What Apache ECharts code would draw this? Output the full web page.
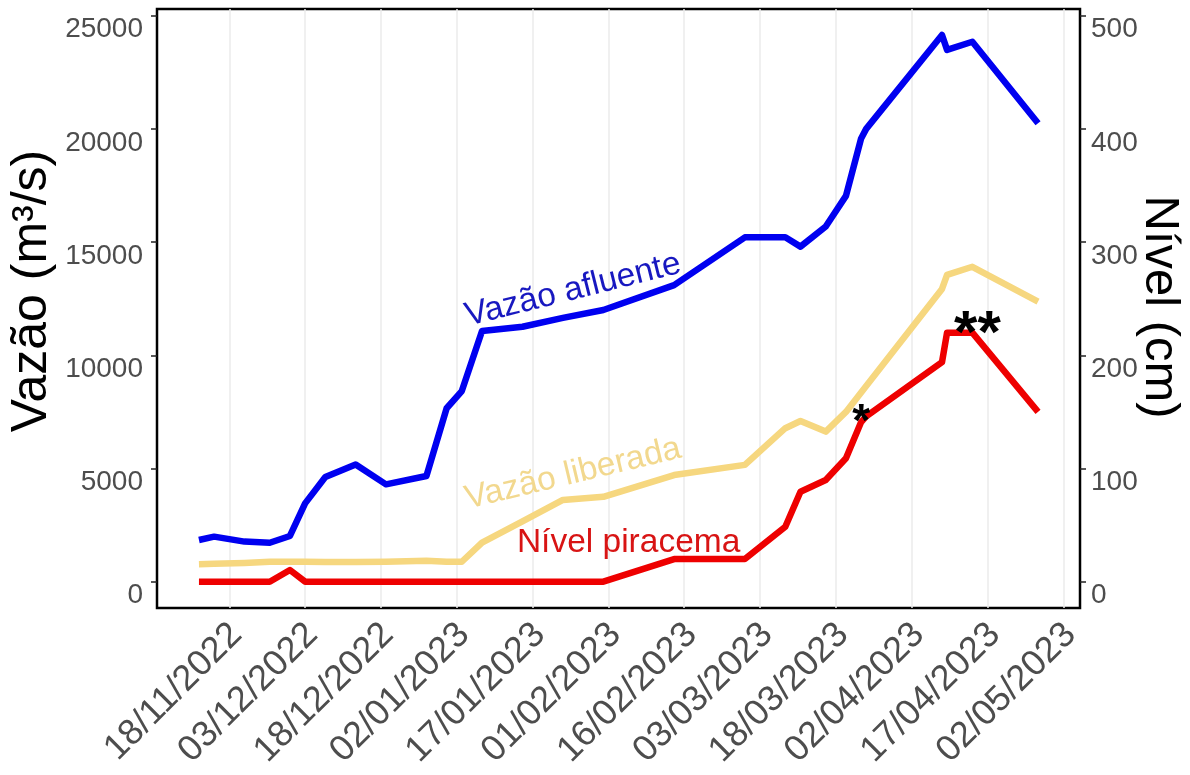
<!DOCTYPE html>
<html>
<head>
<meta charset="utf-8">
<script src="https://cdn.jsdelivr.net/npm/echarts@6/dist/echarts.min.js"></script>
<style>
  html, body { margin: 0; padding: 0; background: #ffffff; }
  #chart { width: 1190px; height: 775px; }
</style>
</head>
<body>
<div id="chart"></div>
<script>
// ---- data ----
const dates = ['2022-11-12','2022-11-15','2022-11-21','2022-11-26','2022-11-30','2022-12-03',
  '2022-12-07','2022-12-13','2022-12-19','2022-12-27','2022-12-31','2023-01-03','2023-01-07',
  '2023-01-15','2023-01-23','2023-01-31','2023-02-14','2023-02-28','2023-03-08','2023-03-11',
  '2023-03-16','2023-03-20','2023-03-23','2023-03-24','2023-04-08','2023-04-09','2023-04-14',
  '2023-04-27'];
const vazaoAfluente = [1840, 1990, 1770, 1720, 2020, 3460, 4620, 5180, 4300, 4670, 7660, 8420,
  11070, 11260, 11650, 12000, 13100, 15210, 15210, 14800, 15690, 17040, 19580, 20000, 24150,
  23490, 23850, 20250];
const vazaoLiberada = [770, 790, 830, 880, 880, 880, 870, 870, 880, 930, 880, 880, 1730, 2660,
  3610, 3750, 4710, 5160, 6780, 7100, 6630, 7500, 8360, 8640, 12930, 13550, 13910, 12370];
const nivelPiracema = [0, 0, 0, 0, 10.3, 0, 0, 0, 0, 0, 0, 0, 0, 0, 0, 0, 20, 20, 48.6, 79.5,
  89.8, 109, 141, 146, 194, 220, 220, 150];
const xTickDates = ['2022-11-18','2022-12-03','2022-12-18','2023-01-02','2023-01-17','2023-02-01',
  '2023-02-16','2023-03-03','2023-03-18','2023-04-02','2023-04-17','2023-05-02'];
const leftTicks = [0, 5000, 10000, 15000, 20000, 25000];
const rightTicks = [0, 100, 200, 300, 400, 500];
const seriesNames = ['Vazão afluente', 'Vazão liberada', 'Nível piracema'];
// annotation anchors: [date, value on left axis]
const labelAfluente = ['2023-01-25', 12880];
const labelLiberada = ['2023-01-25', 4760];
const labelPiracema = ['2023-02-05', 1710];
const star1 = ['2023-03-23', 7450];
const star2 = ['2023-04-15', 11470];

// ---- helpers ----
function ts(s) { const p = s.split('-').map(Number); return Date.UTC(p[0], p[1] - 1, p[2]); }
const tFirst = ts(dates[0]), tLast = ts(dates[dates.length - 1]);
const pad = (tLast - tFirst) * 0.05;
function pad2(n) { return (n < 10 ? '0' : '') + n; }
function fmtDate(v) { const d = new Date(v); return pad2(d.getUTCDate()) + '/' + pad2(d.getUTCMonth() + 1) + '/' + d.getUTCFullYear(); }
function fmtNum(v) { return String(Math.round(v)); }

const yMinL = -1162, yMaxL = 25296, ratio = 50;

const chart = echarts.init(document.getElementById('chart'), null, { renderer: 'canvas' });
const FONT = 'Liberation Sans, Arial, sans-serif';
const colBlue = '#0000F0', colYellow = '#F6D77F', colRed = '#EE0000';

function pts(vals) { return dates.map((d, i) => [ts(d), vals[i]]); }
function annot(coord, text, opts) {
  return {
    coord: [ts(coord[0]), coord[1]],
    symbol: 'circle', symbolSize: 0,
    itemStyle: { color: 'rgba(0,0,0,0)' },
    label: Object.assign({ show: true, position: 'inside', formatter: text, fontFamily: FONT }, opts)
  };
}

const option = {
  animation: false,
  backgroundColor: '#ffffff',
  grid: { left: 157, right: 110, top: 9, bottom: 167, show: true, borderColor: '#000', borderWidth: 2.5, backgroundColor: '#fff' },
  xAxis: {
    type: 'value',
    min: tFirst - pad, max: tLast + pad,
    axisLine: { show: false },
    axisTick: { show: false, customValues: xTickDates.map(ts) },
    splitLine: { show: true, lineStyle: { color: '#EBEBEB', width: 1.5 } },
    axisLabel: {
      customValues: xTickDates.map(ts),
      formatter: fmtDate, rotate: 45, align: 'right', verticalAlign: 'top', lineHeight: 20,
      margin: 14, fontSize: 36, color: '#4D4D4D', fontFamily: FONT, hideOverlap: false
    }
  },
  yAxis: [
    {
      type: 'value', min: yMinL, max: yMaxL, position: 'left',
      axisLine: { show: false },
      splitLine: { show: false },
      axisTick: { show: true, length: 6, lineStyle: { color: '#222', width: 1.5 }, customValues: leftTicks },
      axisLabel: { customValues: leftTicks, formatter: fmtNum, fontSize: 28, color: '#4D4D4D', fontFamily: FONT, margin: 14, verticalAlign: 'top' }
    },
    {
      type: 'value', min: yMinL / ratio, max: yMaxL / ratio, position: 'right',
      axisLine: { show: false },
      splitLine: { show: false },
      axisTick: { show: true, length: 6, lineStyle: { color: '#222', width: 1.5 }, customValues: rightTicks },
      axisLabel: { customValues: rightTicks, formatter: fmtNum, fontSize: 28, color: '#4D4D4D', fontFamily: FONT, margin: 11, verticalAlign: 'top' }
    }
  ],
  graphic: [
    { type: 'text', x: 32, y: 291, rotation: Math.PI / 2,
      style: { text: 'Vazão (m³/s)', fontSize: 50, fontFamily: FONT, fill: '#000', align: 'center', verticalAlign: 'middle' } },
    { type: 'text', x: 1160, y: 307, rotation: -Math.PI / 2,
      style: { text: 'Nível (cm)', fontSize: 49, fontFamily: FONT, fill: '#000', align: 'center', verticalAlign: 'middle' } }
  ],
  series: [
    {
      name: seriesNames[1], type: 'line', yAxisIndex: 0, data: pts(vazaoLiberada),
      showSymbol: false, symbol: 'none', lineStyle: { color: colYellow, width: 6.5, join: 'round' },
      markPoint: { silent: true, data: [
        annot(labelLiberada, 'Vazão liberada', { fontSize: 33.5, color: '#F2D88E', rotate: 13.5 })
      ] },
      z: 2
    },
    {
      name: seriesNames[0], type: 'line', yAxisIndex: 0, data: pts(vazaoAfluente),
      showSymbol: false, symbol: 'none', lineStyle: { color: colBlue, width: 6.5, join: 'round' },
      markPoint: { silent: true, data: [
        annot(labelAfluente, 'Vazão afluente', { fontSize: 33.5, color: '#1818C0', rotate: 14 })
      ] },
      z: 3
    },
    {
      name: seriesNames[2], type: 'line', yAxisIndex: 1, data: pts(nivelPiracema),
      showSymbol: false, symbol: 'none', lineStyle: { color: colRed, width: 6.5, join: 'round' },
      markPoint: { silent: true, data: [
        annot([labelPiracema[0], labelPiracema[1] / ratio], 'Nível piracema', { fontSize: 33.5, color: '#D81414' }),
        annot([star1[0], star1[1] / ratio], '*', { fontSize: 46, fontWeight: 'bold', color: '#000', offset: [0, 10] }),
        annot([star2[0], star2[1] / ratio], '**', { fontSize: 60, fontWeight: 'bold', color: '#000', offset: [0, 13] })
      ] },
      z: 4
    }
  ]
};
chart.setOption(option);
</script>
</body>
</html>
